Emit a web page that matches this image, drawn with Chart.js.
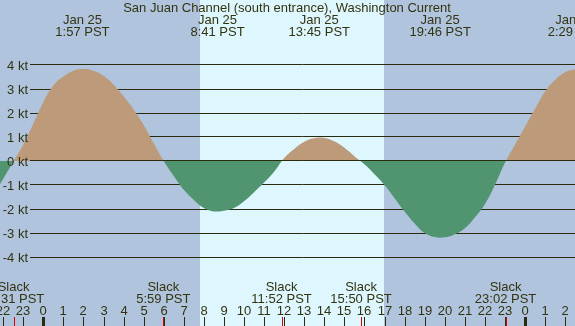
<!DOCTYPE html>
<html>
<head>
<meta charset="utf-8">
<script src="https://cdn.jsdelivr.net/npm/chart.js@4/dist/chart.umd.min.js"></script>
<style>
  body { margin: 0; background: #b0c4de; }
  #wrap { width: 575px; height: 326px; }
</style>
</head>
<body>
<div id="wrap"><canvas id="current" width="575" height="326"></canvas></div>
<script>
// hours after midnight Jan 25 (PST) and current speed in knots, every half hour
const hours  = [-2.16, -2.0, -1.5, -1.0, -0.5, 0.0, 0.5, 1.0, 1.5, 2.0, 2.5, 3.0, 3.5, 4.0, 4.5, 5.0, 5.5,
                6.0, 6.5, 7.0, 7.5, 8.0, 8.5, 9.0, 9.5, 10.0, 10.5, 11.0, 11.5, 12.0, 12.5, 13.0, 13.5,
                14.0, 14.5, 15.0, 15.5, 16.0, 16.5, 17.0, 17.5, 18.0, 18.5, 19.0, 19.5, 20.0, 20.5,
                21.0, 21.5, 22.0, 22.5, 23.0, 23.5, 24.0, 24.5, 25.0, 25.5, 26.0, 26.49];
const speeds = [-0.97, -0.75, -0.03, 0.68, 1.55, 2.45, 3.15, 3.52, 3.76, 3.83, 3.76, 3.55, 3.18, 2.7, 2.15, 1.5, 0.74,
                0.0, -0.62, -1.2, -1.62, -1.96, -2.1, -2.07, -1.96, -1.68, -1.3, -0.9, -0.45, 0.12, 0.5, 0.8, 0.95,
                0.96, 0.82, 0.55, 0.2, -0.14, -0.55, -1.0, -1.55, -2.1, -2.6, -3.0, -3.17, -3.18, -3.05,
                -2.8, -2.35, -1.8, -1.0, -0.07, 0.68, 1.43, 2.18, 2.9, 3.38, 3.7, 3.82];

const peakTimes  = [1.95, 8.68, 13.75, 19.77, 26.48];
const peakDates  = ['Jan 25', 'Jan 25', 'Jan 25', 'Jan 25', 'Jan 26'];
const peakLabels = ['1:57 PST', '8:41 PST', '13:45 PST', '19:46 PST', '2:29 PST'];

const slackTimes  = [-1.48, 5.98, 11.87, 15.83, 23.03];
const slackLabels = ['22:31 PST', '5:59 PST', '11:52 PST', '15:50 PST', '23:02 PST'];

const hourTicks  = [-2, -1, 0, 1, 2, 3, 4, 5, 6, 7, 8, 9, 10, 11, 12, 13, 14, 15, 16, 17, 18, 19, 20, 21, 22, 23, 24, 25, 26];
const hourLabels = ['22', '23', '0', '1', '2', '3', '4', '5', '6', '7', '8', '9', '10', '11', '12', '13',
                    '14', '15', '16', '17', '18', '19', '20', '21', '22', '23', '0', '1', '2'];

const ktLevels = [4, 3, 2, 1, 0, -1, -2, -3, -4];
const ktLabels = ['4 kt', '3 kt', '2 kt', '1 kt', '0 kt', '-1 kt', '-2 kt', '-3 kt', '-4 kt'];

const sunrise = 7.81;
const sunset = 16.99;

const title = 'San Juan Channel (south entrance), Washington Current';

const nightColor = '#b0c4de';
const dayColor = '#def7ff';
const floodColor = '#bc9a7a';
const ebbColor = '#509470';
const lineColor = '#2a2a0c';
const textColor = '#333310';
const font = '13px "Liberation Sans"';

const backdrop = {
  id: 'backdrop',
  beforeDatasetsDraw(chart) {
    const ctx = chart.ctx;
    const area = chart.chartArea;
    const x = chart.scales.x, y = chart.scales.y;
    ctx.save();
    ctx.fillStyle = nightColor;
    ctx.fillRect(area.left, area.top, area.width, area.height);
    const x1 = Math.round(x.getPixelForValue(sunrise));
    const x2 = Math.round(x.getPixelForValue(sunset));
    ctx.fillStyle = dayColor;
    ctx.fillRect(x1, area.top, x2 - x1, area.height);

    ctx.strokeStyle = lineColor;
    ctx.lineWidth = 1;
    ktLevels.forEach(v => {
      if (v === 0) return;
      const py = Math.floor(y.getPixelForValue(v)) + 0.5;
      ctx.beginPath();
      ctx.moveTo(30, py);
      ctx.lineTo(area.right, py);
      ctx.stroke();
    });
    ctx.restore();
  },
  afterDatasetsDraw(chart) {
    const ctx = chart.ctx;
    const area = chart.chartArea;
    const x = chart.scales.x, y = chart.scales.y;
    ctx.save();
    ctx.strokeStyle = lineColor;
    ctx.lineWidth = 1;
    const py0 = Math.floor(y.getPixelForValue(0)) + 0.5;
    ctx.beginPath();
    ctx.moveTo(30, py0);
    ctx.lineTo(area.right, py0);
    ctx.stroke();

    ctx.font = font;
    ctx.fillStyle = textColor;
    ctx.textBaseline = 'middle';

    // y labels
    ctx.textAlign = 'right';
    ktLevels.forEach((v, i) => {
      ctx.fillText(ktLabels[i], 28, y.getPixelForValue(v) + 1);
    });

    // title and max/min current labels
    ctx.textAlign = 'center';
    ctx.fillText(title, 287, 8);
    peakTimes.forEach((t, i) => {
      const px = x.getPixelForValue(t);
      ctx.fillText(peakDates[i], px, 20);
      ctx.fillText(peakLabels[i], px, 32);
    });

    // slack labels
    slackTimes.forEach((t, i) => {
      const px = x.getPixelForValue(t);
      ctx.fillText('Slack', px, 287);
      ctx.fillText(slackLabels[i], px, 299);
    });

    // hour labels and ticks
    hourTicks.forEach((h, i) => {
      const px = Math.round(x.getPixelForValue(h));
      ctx.fillStyle = textColor;
      ctx.fillText(hourLabels[i], px, 311);
      ctx.fillStyle = lineColor;
      if (hourLabels[i] === '0') {
        ctx.fillRect(px - 1, 317, 3, area.bottom - 317);
      } else {
        ctx.fillRect(px, 317, 1, area.bottom - 317);
      }
    });
    ctx.fillStyle = '#dd0000';
    slackTimes.forEach(t => {
      const px = Math.round(x.getPixelForValue(t));
      ctx.fillRect(px, 317, 1, area.bottom - 317);
    });
    ctx.restore();
  }
};

new Chart(document.getElementById('current'), {
  type: 'line',
  data: {
    datasets: [{
      label: 'Current',
      data: hours.map((h, i) => ({ x: h, y: speeds[i] })),
      borderWidth: 0,
      pointRadius: 0,
      tension: 0.4,
      fill: { target: 'origin', above: floodColor, below: ebbColor }
    }]
  },
  options: {
    responsive: false,
    animation: false,
    layout: { padding: 0 },
    scales: {
      x: { type: 'linear', display: false, min: -2.157, max: 26.49 },
      y: { type: 'linear', display: false, min: -165 / 24, max: 161 / 24 }
    },
    plugins: {
      legend: { display: false },
      tooltip: { enabled: false }
    }
  },
  plugins: [backdrop]
});
</script>
</body>
</html>
